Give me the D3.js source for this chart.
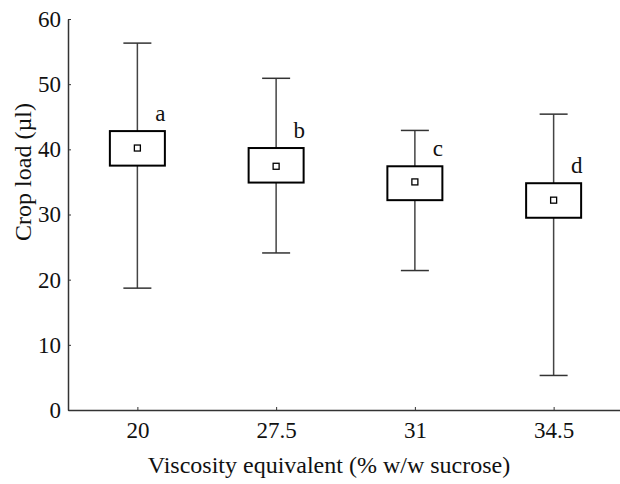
<!DOCTYPE html>
<html>
<head>
<meta charset="utf-8">
<script src="https://cdn.jsdelivr.net/npm/d3@7"></script>
<style>
body { margin: 0; background: #fff; }
</style>
</head>
<body>
<script>
// data
var categories = ["20", "27.5", "31", "34.5"];
var whiskerLow = [18.7, 24.1, 21.4, 5.3];
var boxLow = [37.5, 34.9, 32.2, 29.5];
var means = [40.2, 37.4, 35.0, 32.2];
var boxHigh = [42.8, 40.2, 37.4, 34.8];
var whiskerHigh = [56.3, 50.9, 42.9, 45.4];
var letters = ["a", "b", "c", "d"];
var yTicks = [0, 10, 20, 30, 40, 50, 60];

var width = 620, height = 484;
var margin = {left: 68, right: -3, top: 19, bottom: 74};
var serif = "'Liberation Serif', 'Times New Roman', serif";

var svg = d3.select("body").append("svg")
    .attr("width", width)
    .attr("height", height);

var x = d3.scalePoint()
    .domain(categories)
    .range([margin.left, width - margin.right])
    .padding(0.5);

var y = d3.scaleLinear()
    .domain([0, 60])
    .range([height - margin.bottom, margin.top]);

var rows = categories.map(function (c, i) {
    return {cat: c, wl: whiskerLow[i], bl: boxLow[i], m: means[i], bh: boxHigh[i], wh: whiskerHigh[i], lab: letters[i]};
});

// axes
var yAxis = svg.append("g")
    .attr("transform", "translate(" + margin.left + ",0)")
    .call(d3.axisLeft(y).tickValues(yTicks).tickSizeInner(-3).tickSizeOuter(0).tickPadding(7));
var xAxis = svg.append("g")
    .attr("transform", "translate(0," + y(0) + ")")
    .call(d3.axisBottom(x).tickSizeInner(-3).tickSizeOuter(0).tickPadding(10));

[yAxis, xAxis].forEach(function (a) {
    a.attr("font-family", null).attr("font-size", null);
    a.select(".domain").attr("stroke", "#333").attr("stroke-width", 1.5);
    a.selectAll(".tick line").attr("stroke", "#333").attr("stroke-width", 1);
    a.selectAll("text")
        .style("font-family", serif)
        .style("font-size", "23px")
        .attr("fill", "#111");
});
xAxis.selectAll("text").attr("dy", "0.8em");

var boxW = 55, capW = 28;

var g = svg.selectAll("g.box")
    .data(rows)
    .enter().append("g")
    .attr("class", "box");

// whisker stems
g.append("line")
    .attr("x1", function (d) { return x(d.cat); })
    .attr("x2", function (d) { return x(d.cat); })
    .attr("y1", function (d) { return y(d.wh); })
    .attr("y2", function (d) { return y(d.wl); })
    .attr("stroke", "#444").attr("stroke-width", 1.5);

// caps
["wh", "wl"].forEach(function (k) {
    g.append("line")
        .attr("x1", function (d) { return x(d.cat) - capW / 2; })
        .attr("x2", function (d) { return x(d.cat) + capW / 2; })
        .attr("y1", function (d) { return y(d[k]); })
        .attr("y2", function (d) { return y(d[k]); })
        .attr("stroke", "#333").attr("stroke-width", 1.5);
});

g.append("rect")
    .attr("x", function (d) { return x(d.cat) - boxW / 2; })
    .attr("y", function (d) { return y(d.bh); })
    .attr("width", boxW)
    .attr("height", function (d) { return y(d.bl) - y(d.bh); })
    .attr("fill", "#fff")
    .attr("stroke", "#000").attr("stroke-width", 2);

g.append("rect")
    .attr("x", function (d) { return x(d.cat) - 3; })
    .attr("y", function (d) { return y(d.m) - 3; })
    .attr("width", 6).attr("height", 6)
    .attr("fill", "#fff")
    .attr("stroke", "#000").attr("stroke-width", 1.3);

g.append("text")
    .attr("x", function (d) { return x(d.cat) + 23; })
    .attr("y", function (d) { return y(d.bh) - 10; })
    .attr("text-anchor", "middle")
    .style("font-family", serif)
    .style("font-size", "23px")
    .attr("fill", "#111")
    .text(function (d) { return d.lab; });

// axis titles
svg.append("text")
    .attr("x", 329).attr("y", 473)
    .attr("text-anchor", "middle")
    .style("font-family", serif)
    .style("font-size", "24px")
    .attr("fill", "#111")
    .text("Viscosity equivalent (% w/w sucrose)");

svg.append("text")
    .attr("transform", "translate(31,172) rotate(-90)")
    .attr("text-anchor", "middle")
    .style("font-family", serif)
    .style("font-size", "24px")
    .attr("fill", "#111")
    .text("Crop load (µl)");
</script>
</body>
</html>
